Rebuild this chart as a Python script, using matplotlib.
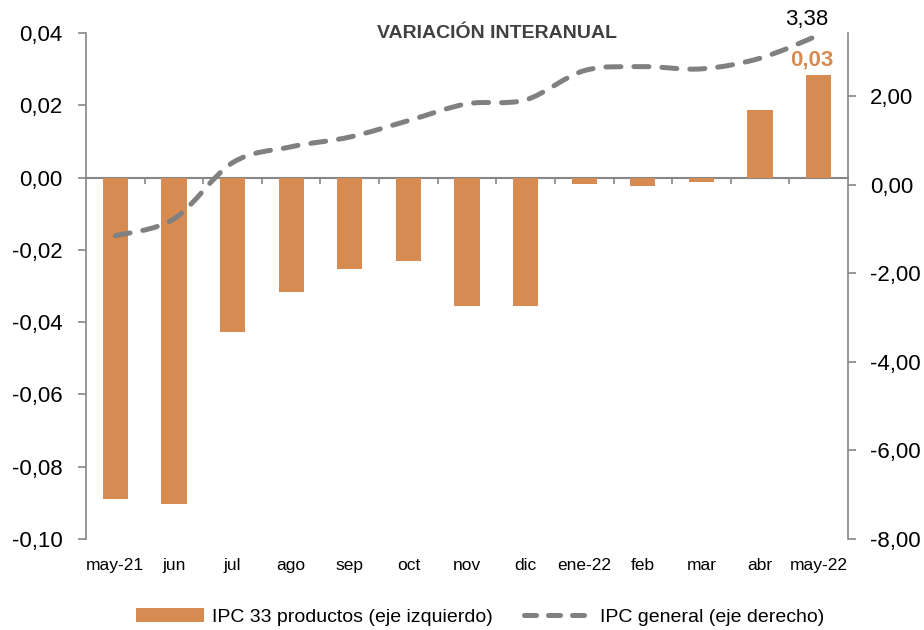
import matplotlib.pyplot as plt
from matplotlib.path import Path
from matplotlib.patches import PathPatch, Patch
from matplotlib.lines import Line2D

plt.rcParams['font.family'] = ['Liberation Sans', 'DejaVu Sans']

meses = ['may-21', 'jun', 'jul', 'ago', 'sep', 'oct', 'nov', 'dic',
         'ene-22', 'feb', 'mar', 'abr', 'may-22']
ipc_33 = [-0.0888, -0.0902, -0.0428, -0.0317, -0.0254, -0.0230, -0.0356,
          -0.0354, -0.0017, -0.0024, -0.0012, 0.0186, 0.0283]
ipc_general = [-1.15, -0.77, 0.50, 0.86, 1.08, 1.45, 1.83, 1.92,
               2.58, 2.67, 2.62, 2.86, 3.38]

naranja = '#d58b51'
gris = '#868686'

fig = plt.figure(figsize=(9.24, 6.3), dpi=100)
ax = fig.add_axes([86/924, 1-539/630, (848-86)/924, (539-33)/630])
x = list(range(len(meses)))

ax.bar(x, ipc_33, width=0.43, color=naranja, zorder=2)
ax.set_ylim(-0.10, 0.04)
ax.set_xlim(-0.5, len(meses)-0.5)
ax.set_yticks([-0.10, -0.08, -0.06, -0.04, -0.02, 0.0, 0.02, 0.04])
ax.set_yticklabels(['-0,10', '-0,08', '-0,06', '-0,04', '-0,02', '0,00', '0,02', '0,04'])
ax.tick_params(axis='y', labelsize=16, length=5.8, color=gris, width=1.2, pad=11)
ax.set_xticks(x)
ax.set_xticklabels(meses)
ax.tick_params(axis='x', labelsize=12.5, length=0, pad=14)
for s in ['top', 'right', 'bottom']:
    ax.spines[s].set_visible(False)
ax.spines['left'].set_color(gris)
ax.spines['left'].set_linewidth(1.2)

# eje horizontal en cero con marcas entre categorias
zero_pos = (0 - (-0.10)) / 0.14
sec = ax.secondary_xaxis(zero_pos)
sec.set_xticks([i + 0.5 for i in x[:-1]])
sec.set_xticklabels([])
sec.tick_params(length=4.5, color=gris, width=1.2, direction='in')
for s in sec.spines.values():
    s.set_color(gris)
    s.set_linewidth(1.5)

# eje derecho
ax2 = ax.twinx()
ax2.set_ylim(-8, 3.43)
ax2.set_yticks([-8, -6, -4, -2, 0, 2])
ax2.set_yticklabels(['-8,00', '-6,00', '-4,00', '-2,00', '0,00', '2,00'])
ax2.tick_params(axis='y', labelsize=16, length=5.8, color=gris, width=1.2, pad=10)
for s in ['top', 'left', 'bottom']:
    ax2.spines[s].set_visible(False)
ax2.spines['right'].set_color(gris)
ax2.spines['right'].set_linewidth(1.2)

# linea suavizada (Catmull-Rom como curvas Bezier)
pts = list(zip(x, ipc_general))
verts = [pts[0]]
codes = [Path.MOVETO]
n = len(pts)
for i in range(n - 1):
    p0 = pts[max(i - 1, 0)]
    p1 = pts[i]
    p2 = pts[i + 1]
    p3 = pts[min(i + 2, n - 1)]
    c1 = (p1[0] + (p2[0] - p0[0]) / 6, p1[1] + (p2[1] - p0[1]) / 6)
    c2 = (p2[0] - (p3[0] - p1[0]) / 6, p2[1] - (p3[1] - p1[1]) / 6)
    verts += [c1, c2, p2]
    codes += [Path.CURVE4] * 3
curva = PathPatch(Path(verts, codes), facecolor='none', edgecolor='#808080',
                  linewidth=3.6, linestyle=(0, (3, 2.6)), capstyle='round', zorder=3)
ax2.add_patch(curva)

ax2.text(x[-1] - 0.2, ipc_general[-1] + 0.12, '3,38', fontsize=16, color='black',
         ha='center', va='bottom')
ax.text(x[-1] - 0.12, ipc_33[-1] + 0.0013, '0,03', fontsize=16, color=naranja,
        fontweight='bold', ha='center', va='bottom')

fig.text(497/924, 1-33/630, 'VARIACIÓN INTERANUAL', fontsize=14, fontweight='bold',
         color='#404040', ha='center', va='center')

handles = [Patch(facecolor=naranja, edgecolor='none'),
           Line2D([0], [0], color='#808080', linewidth=3.6, linestyle=(0, (2.4, 2.4)),
                  dash_capstyle='round')]
fig.legend(handles, ['IPC 33 productos (eje izquierdo)', 'IPC general (eje derecho)'],
           loc='center', bbox_to_anchor=(480/924, 1-617/630), ncol=2, frameon=False,
           fontsize=14, handlelength=3.5, handletextpad=0.4, columnspacing=1.6)

fig.savefig('out.png', dpi=100)
